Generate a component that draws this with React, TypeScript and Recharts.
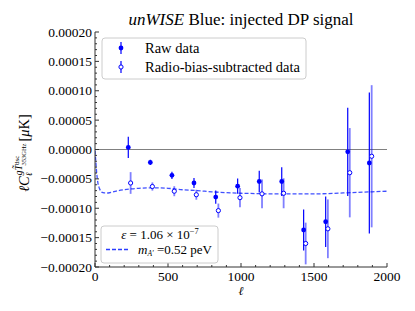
import React from "react"
import {
  ComposedChart,
  Scatter,
  Line,
  XAxis,
  YAxis,
  ErrorBar,
  ReferenceLine,
} from "recharts"

// multipole bins and cross-correlation values (muK)
const rawEll = [228, 379, 527, 678, 827, 977, 1125, 1279, 1429, 1580, 1731, 1879]
const rawVal = [0.35e-5, -2.2e-5, -4.4e-5, -5.7e-5, -8.1e-5, -6.25e-5, -5.45e-5, -5.45e-5, -13.7e-5, -12.3e-5, -0.4e-5, -2.3e-5]
const rawErr = [1.8e-5, 0.45e-5, 0.63e-5, 0.85e-5, 1.14e-5, 1.3e-5, 1.85e-5, 2.45e-5, 3.5e-5, 4.3e-5, 7.5e-5, 12e-5]

const subEll = [244, 393, 543, 694, 845, 993, 1144, 1292, 1443, 1595, 1745, 1895]
const subVal = [-5.7e-5, -6.3e-5, -7.1e-5, -7.7e-5, -10.4e-5, -8.2e-5, -7.55e-5, -7.45e-5, -16.0e-5, -13.5e-5, -3.95e-5, -1.15e-5]
const subErr = [1.85e-5, 0.7e-5, 0.85e-5, 0.85e-5, 1.2e-5, 1.65e-5, 2.45e-5, 2.55e-5, 3.55e-5, 5.0e-5, 7.6e-5, 12.1e-5]

// injected dark photon template
const modelEll = [0, 3, 6, 10, 15, 20, 30, 40, 55, 70, 90, 120, 160, 200, 250, 300, 400, 500, 600, 700, 800, 900, 1000, 1100, 1200, 1300, 1400, 1500, 1600, 1700, 1800, 1900, 2000]
const modelVal = [-0.2e-5, -1.2e-5, -2.2e-5, -3.5e-5, -4.8e-5, -5.7e-5, -6.6e-5, -7.1e-5, -7.35e-5, -7.4e-5, -7.4e-5, -7.25e-5, -7.0e-5, -6.85e-5, -6.7e-5, -6.6e-5, -6.52e-5, -6.6e-5, -6.85e-5, -7.0e-5, -7.2e-5, -7.35e-5, -7.45e-5, -7.5e-5, -7.55e-5, -7.55e-5, -7.55e-5, -7.55e-5, -7.5e-5, -7.4e-5, -7.3e-5, -7.2e-5, -7.1e-5]

const xMajor = [0, 500, 1000, 1500, 2000]
const yMajorLabels = ["0.00020", "0.00015", "0.00010", "0.00005", "0.00000", "−0.00005", "−0.00010", "−0.00015", "−0.00020"]

const xTicks = Array.from({ length: 21 }, (_, i) => i * 100)
const yTicks = Array.from({ length: 41 }, (_, i) => (i - 20) * 1e-5)

const rawData = rawEll.map((x, i) => ({ x, y: rawVal[i], err: rawErr[i] }))
const subData = subEll.map((x, i) => ({ x, y: subVal[i], err: subErr[i] }))
const modelData = modelEll.map((x, i) => ({ x, y: modelVal[i] }))

const FONT = "'Liberation Serif', 'Times New Roman', serif"
const AXIS = "#333"
const BLUE = "#0000ff"

const BottomTick = (props: any) => {
  const { x, y, payload } = props
  const major = xMajor.includes(payload.value)
  return (
    <g>
      <line x1={x} x2={x} y1={y} y2={y - (major ? 4 : 2)} stroke={AXIS} />
      {major && (
        <text x={x} y={y + 14} textAnchor="middle" fontSize={13.5} fontFamily={FONT} fill="#000">
          {payload.value}
        </text>
      )}
    </g>
  )
}

const TopTick = (props: any) => {
  const { x, y, payload } = props
  const major = xMajor.includes(payload.value)
  return <line x1={x} x2={x} y1={y} y2={y + (major ? 4 : 2)} stroke={AXIS} />
}

const LeftTick = (props: any) => {
  const { x, y, payload } = props
  const i = Math.round(payload.value * 1e5)
  const major = i % 5 === 0
  return (
    <g>
      <line x1={x} x2={x + (major ? 4 : 2)} y1={y} y2={y} stroke={AXIS} />
      {major && (
        <text x={x - 3} y={y + 4.5} textAnchor="end" fontSize={13.5} fontFamily={FONT} fill="#000">
          {yMajorLabels[(20 - i) / 5]}
        </text>
      )}
    </g>
  )
}

const RightTick = (props: any) => {
  const { x, y, payload } = props
  const major = Math.round(payload.value * 1e5) % 5 === 0
  return <line x1={x} x2={x - (major ? 4 : 2)} y1={y} y2={y} stroke={AXIS} />
}

const FilledDot = (props: any) => <circle cx={props.cx} cy={props.cy} r={2.4} fill={BLUE} />
const OpenDot = (props: any) => (
  <circle cx={props.cx} cy={props.cy} r={2.1} fill="#fff" stroke={BLUE} strokeWidth={1} />
)

export default function App() {
  return (
    <div style={{ position: "absolute", left: 0, top: 0, width: 415, height: 311, background: "#fff" }}>
      <ComposedChart width={415} height={311} margin={{ top: 32, right: 28, bottom: 14, left: 0 }}>
        <XAxis
          xAxisId={0}
          type="number"
          dataKey="x"
          domain={[0, 2000]}
          ticks={xTicks}
          interval={0}
          allowDataOverflow
          height={30}
          tickSize={0}
          tickMargin={0}
          tickLine={false}
          tick={<BottomTick />}
          axisLine={{ stroke: AXIS }}
        />
        <XAxis
          xAxisId="t"
          orientation="top"
          type="number"
          dataKey="x"
          domain={[0, 2000]}
          ticks={xTicks}
          interval={0}
          allowDataOverflow
          height={0}
          tickSize={0}
          tickMargin={0}
          tickLine={false}
          tick={<TopTick />}
          axisLine={{ stroke: AXIS }}
        />
        <YAxis
          yAxisId={0}
          type="number"
          dataKey="y"
          domain={[-0.0002, 0.0002]}
          ticks={yTicks}
          interval={0}
          allowDataOverflow
          width={95}
          tickSize={0}
          tickMargin={0}
          tickLine={false}
          tick={<LeftTick />}
          axisLine={{ stroke: AXIS }}
        />
        <YAxis
          yAxisId="r"
          orientation="right"
          type="number"
          dataKey="y"
          domain={[-0.0002, 0.0002]}
          ticks={yTicks}
          interval={0}
          allowDataOverflow
          width={0}
          tickSize={0}
          tickMargin={0}
          tickLine={false}
          tick={<RightTick />}
          axisLine={{ stroke: AXIS }}
        />
        <ReferenceLine y={0} stroke="#808080" strokeWidth={1} />
        <Line
          data={modelData}
          dataKey="y"
          type="monotone"
          stroke="#2a3cff"
          strokeOpacity={0.9}
          strokeWidth={1.3}
          strokeDasharray="4 2"
          dot={false}
          activeDot={false}
          isAnimationActive={false}
        />
        <Scatter data={subData} dataKey="y" shape={<OpenDot />} isAnimationActive={false}>
          <ErrorBar dataKey="err" direction="y" width={0} stroke={BLUE} strokeOpacity={0.5} strokeWidth={1.8} />
        </Scatter>
        <Scatter data={rawData} dataKey="y" shape={<FilledDot />} isAnimationActive={false}>
          <ErrorBar dataKey="err" direction="y" width={0} stroke={BLUE} strokeWidth={1.2} />
        </Scatter>
      </ComposedChart>

      <svg
        width={415}
        height={311}
        style={{ position: "absolute", left: 0, top: 0, pointerEvents: "none" }}
        fontFamily={FONT}
      >
        <text x={241} y={25} textAnchor="middle" fontSize={17}>
          <tspan fontStyle="italic">unWISE</tspan> Blue: injected DP signal
        </text>
        <text x={241} y={295} textAnchor="middle" fontSize={12} fontStyle="italic">
          ℓ
        </text>
        <g transform="translate(29,153) rotate(-90)">
          <text textAnchor="middle" fontSize={14.5}>
            <tspan fontStyle="italic">ℓC</tspan>
            <tspan fontSize={9} fontStyle="italic" dy={3}>ℓ</tspan>
            <tspan fontSize={10} fontStyle="italic" dx={-3} dy={-10}>gT̃</tspan>
            <tspan fontSize={7} dy={-3}>dsc</tspan>
            <tspan fontSize={6.5} dx={-10} dy={7}>353GHz</tspan>
            <tspan fontSize={14.5} dx={2} dy={3}>[</tspan>
            <tspan fontStyle="italic">μ</tspan>
            <tspan>K]</tspan>
          </text>
        </g>

        {/* upper legend */}
        <rect x={102} y={38} width={204} height={41} rx={3} fill="#fff" fillOpacity={0.8} stroke="#cccccc" />
        <line x1={121} x2={121} y1={42} y2={54} stroke={BLUE} strokeWidth={1.2} />
        <circle cx={121} cy={48} r={2.4} fill={BLUE} />
        <text x={145} y={52.5} fontSize={14.5}>Raw data</text>
        <line x1={121} x2={121} y1={61} y2={73} stroke={BLUE} strokeWidth={1.2} />
        <circle cx={121} cy={67} r={2.1} fill="#fff" stroke={BLUE} />
        <text x={145} y={71.5} fontSize={14.5}>Radio-bias-subtracted data</text>

        {/* lower legend */}
        <rect x={101} y={226} width={117} height={37} rx={3} fill="#fff" fillOpacity={0.8} stroke="#cccccc" />
        <text x={160} y={239} textAnchor="middle" fontSize={13}>
          <tspan fontStyle="italic">ε</tspan> = 1.06 × 10<tspan fontSize={8.5} dy={-5}>−7</tspan>
        </text>
        <line x1={106} x2={128} y1={249.5} y2={249.5} stroke="#2a3cff" strokeWidth={1.3} strokeDasharray="4 2" />
        <text x={138} y={254} fontSize={13}>
          <tspan fontStyle="italic">m</tspan>
          <tspan fontSize={7.5} fontStyle="italic" dy={2}>A′</tspan>
          <tspan dy={-2}> =0.52 peV</tspan>
        </text>
      </svg>
    </div>
  )
}
